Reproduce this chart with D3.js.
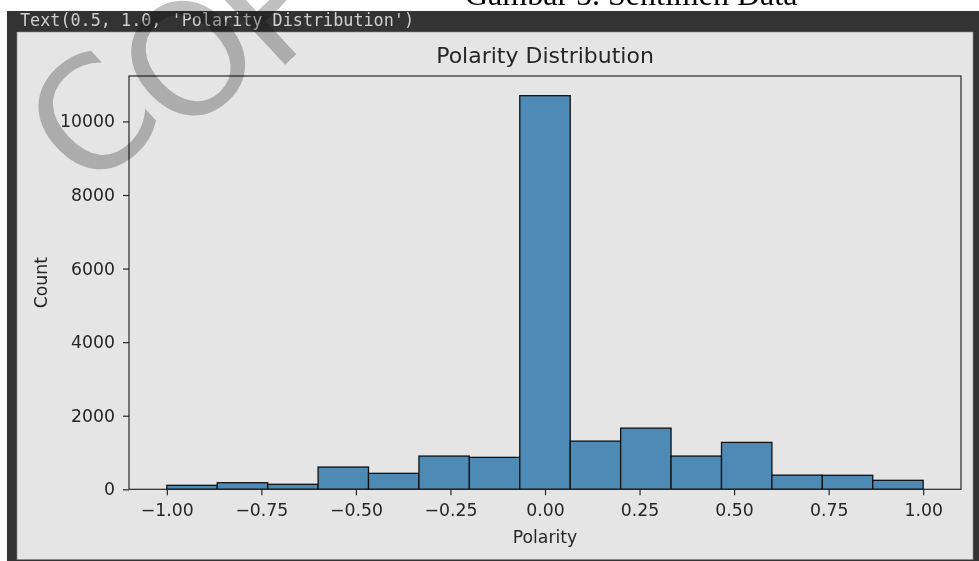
<!DOCTYPE html>
<html>
<head>
<meta charset="utf-8">
<script src="https://cdn.jsdelivr.net/npm/d3@7"></script>
<style>
  html, body { margin: 0; padding: 0; background: #ffffff; }
  svg { display: block; }
</style>
</head>
<body>
<div id="chart"></div>
<script>
// ---- data ----
const binEdges = [-1.0, -0.8667, -0.7333, -0.6, -0.4667, -0.3333, -0.2, -0.0667,
                  0.0667, 0.2, 0.3333, 0.4667, 0.6, 0.7333, 0.8667, 1.0];
const counts = [108, 179, 136, 605, 434, 903, 868, 10700, 1310, 1663, 903, 1275, 385, 380, 244];
const xTicks = [-1.0, -0.75, -0.5, -0.25, 0.0, 0.25, 0.5, 0.75, 1.0];
const yTicks = [0, 2000, 4000, 6000, 8000, 10000];
const chartTitle = "Polarity Distribution";
const xLabel = "Polarity";
const yLabel = "Count";
const codeLine = "Text(0.5, 1.0, 'Polarity Distribution')";
const captionText = "Gambar 5. Sentimen Data";
const watermarkLetters = ["C", "O", "P"];

const W = 979, H = 561;
const plot = { left: 129, right: 961, top: 76, bottom: 489.3 };

const svg = d3.select("#chart").append("svg")
  .attr("width", W).attr("height", H);

// page caption (cut off at top, as in the source page)
svg.append("text")
  .attr("x", 465).attr("y", 5)
  .attr("font-family", "Liberation Serif, Times New Roman, serif")
  .attr("font-size", 32)
  .attr("fill", "#000")
  .text(captionText);

// notebook output frame
svg.append("rect").attr("x", 7).attr("y", 11).attr("width", W - 7).attr("height", H - 11)
  .attr("fill", "#333333");
svg.append("rect").attr("x", 17).attr("y", 32).attr("width", 973 - 17).attr("height", 559.5 - 32)
  .attr("fill", "#e5e5e5").attr("stroke", "#8a8a8a").attr("stroke-width", 0.6);

svg.append("text")
  .attr("x", 20).attr("y", 26)
  .attr("font-family", "DejaVu Sans Mono, monospace")
  .attr("font-size", 16.8)
  .attr("fill", "#cfcfcf")
  .text(codeLine);

// scales
const yMax = d3.max(counts) * 1.05;
const x = d3.scaleLinear().domain([-1.1, 1.1]).range([plot.left, plot.right]);
const y = d3.scaleLinear().domain([0, yMax]).range([plot.bottom, plot.top]);

const g = svg.append("g");

// bars
const bins = counts.map((c, i) => ({ x0: binEdges[i], x1: binEdges[i + 1], c }));
g.selectAll("rect.bar").data(bins).enter().append("rect")
  .attr("class", "bar")
  .attr("x", d => x(d.x0))
  .attr("width", d => x(d.x1) - x(d.x0))
  .attr("y", d => y(d.c))
  .attr("height", d => y(0) - y(d.c))
  .attr("fill", "#4d8bb6")
  .attr("stroke", "#111")
  .attr("stroke-width", 1.3);

// axes
const fontFam = "DejaVu Sans, sans-serif";
const xAxis = d3.axisBottom(x).tickValues(xTicks).tickFormat(d3.format(".2f"))
  .tickSize(6).tickPadding(8);
const yAxis = d3.axisLeft(y).tickValues(yTicks).tickFormat(d3.format("d"))
  .tickSize(6).tickPadding(8);

const gx = svg.append("g").attr("transform", `translate(0,${plot.bottom})`).call(xAxis);
const gy = svg.append("g").attr("transform", `translate(${plot.left},0)`).call(yAxis);
[gx, gy].forEach(ax => {
  ax.select(".domain").remove();
  ax.selectAll(".tick line").attr("stroke", "#262626").attr("stroke-width", 1.2);
  ax.selectAll(".tick text").attr("fill", "#262626")
    .attr("font-family", fontFam).attr("font-size", 17.3);
});

// spines
svg.append("rect")
  .attr("x", plot.left).attr("y", plot.top)
  .attr("width", plot.right - plot.left).attr("height", plot.bottom - plot.top)
  .attr("fill", "none").attr("stroke", "#262626").attr("stroke-width", 1.2);

// title & labels
svg.append("text")
  .attr("x", (plot.left + plot.right) / 2).attr("y", 63)
  .attr("text-anchor", "middle")
  .attr("font-family", fontFam).attr("font-size", 22)
  .attr("fill", "#262626")
  .text(chartTitle);

svg.append("text")
  .attr("x", (plot.left + plot.right) / 2).attr("y", 543)
  .attr("text-anchor", "middle")
  .attr("font-family", fontFam).attr("font-size", 17.3)
  .attr("fill", "#262626")
  .text(xLabel);

svg.append("text")
  .attr("transform", `translate(47,${(plot.top + plot.bottom) / 2}) rotate(-90)`)
  .attr("text-anchor", "middle")
  .attr("font-family", fontFam).attr("font-size", 17.3)
  .attr("fill", "#262626")
  .text(yLabel);

// watermark letters (decoration over the page)
const wmPos = [[89, 195], [182, 141], [274, 75]];
svg.selectAll("text.wm").data(watermarkLetters).enter().append("text")
  .attr("class", "wm")
  .attr("transform", (d, i) => `translate(${wmPos[i][0]},${wmPos[i][1]}) rotate(-43)`)
  .attr("font-family", fontFam).attr("font-size", 155)
  .attr("fill", "#c0c0c0")
  .style("mix-blend-mode", "multiply")
  .text(d => d);
</script>
</body>
</html>
